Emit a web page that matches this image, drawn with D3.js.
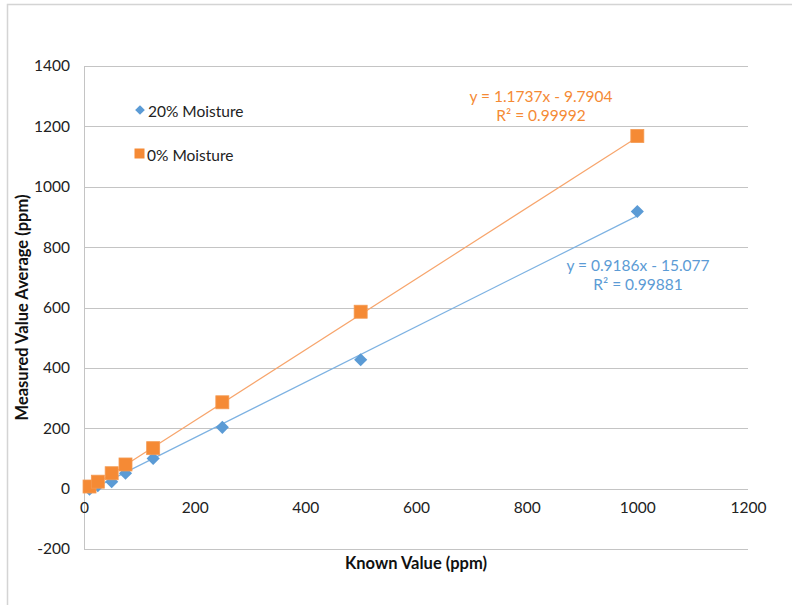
<!DOCTYPE html>
<html>
<head>
<meta charset="utf-8">
<script src="https://cdn.jsdelivr.net/npm/d3@7"></script>
<style>
  html, body { margin: 0; padding: 0; background: #fff; }
  svg { display: block; font-family: Lato, "Open Sans", sans-serif; }
</style>
</head>
<body>
<svg id="chart" width="792" height="605"></svg>
<script>
// Known concentrations (ppm)
const known = [10, 25, 50, 75, 125, 250, 500, 1000];
// Measured averages (ppm)
const moist20 = [-2, 10, 23, 51, 100, 203, 427, 918];
const moist0 = [7, 23, 51, 80, 134, 286, 586, 1168];

// Linear trend lines as reported in the labels
const fit20 = { slope: 0.9186, intercept: -15.077, r2: "0.99881" };
const fit0 = { slope: 1.1737, intercept: -9.7904, r2: "0.99992" };

const seriesNames = ["20% Moisture", "0% Moisture"];
const xTicks = [0, 200, 400, 600, 800, 1000, 1200];
const yTicks = [-200, 0, 200, 400, 600, 800, 1000, 1200, 1400];

const blue = "#5B9BD5";
const orange = "#F58A35";
const blueLine = "#7DB2E2";
const orangeLine = "#F7A56C";
const font = "Lato, 'Open Sans', sans-serif";

const svg = d3.select("#chart");

// outer chart frame (left and top edges visible)
svg.append("path")
  .attr("d", "M7.5,605 V4.5 H792")
  .attr("fill", "none").attr("stroke", "#D4D4D4").attr("stroke-width", 1.5);

const plot = { left: 84, right: 748, top: 66, bottom: 549 };

const x = d3.scaleLinear().domain([0, 1200]).range([plot.left, plot.right]);
const y = d3.scaleLinear().domain([-200, 1400]).range([plot.bottom, plot.top]);

// horizontal gridlines
svg.append("g")
  .selectAll("line").data(yTicks).join("line")
  .attr("x1", plot.left).attr("x2", plot.right)
  .attr("y1", d => Math.round(y(d)) + 0.5).attr("y2", d => Math.round(y(d)) + 0.5)
  .attr("stroke", "#C4C4C4").attr("stroke-width", 1);

// vertical axis line
svg.append("line")
  .attr("x1", plot.left + 0.5).attr("x2", plot.left + 0.5)
  .attr("y1", plot.top).attr("y2", plot.bottom)
  .attr("stroke", "#C4C4C4");

const plain = d => String(d);

// y axis labels
const yAxis = d3.axisLeft(y).tickValues(yTicks).tickFormat(plain).tickSize(0).tickPadding(14);
const gy = svg.append("g").attr("transform", `translate(${plot.left},0)`).call(yAxis);
gy.select(".domain").remove();
gy.selectAll("text").attr("font-size", 15.5).attr("fill", "#222").attr("font-family", font);

// x axis labels, placed where the axis crosses y = 0
const xAxis = d3.axisBottom(x).tickValues(xTicks).tickFormat(plain).tickSize(0).tickPadding(13);
const gx = svg.append("g").attr("transform", `translate(0,${y(0)})`).call(xAxis);
gx.select(".domain").remove();
gx.selectAll("text").attr("font-size", 15.5).attr("fill", "#222").attr("font-family", font);

// axis titles
svg.append("text")
  .attr("x", (plot.left + plot.right) / 2).attr("y", 569)
  .attr("text-anchor", "middle").attr("font-size", 16.5).attr("font-weight", "bold")
  .attr("fill", "#111").text("Known Value (ppm)");
svg.append("text")
  .attr("transform", `translate(28,${(plot.top + plot.bottom) / 2}) rotate(-90)`)
  .attr("text-anchor", "middle").attr("font-size", 16.5).attr("font-weight", "bold")
  .attr("fill", "#111").text("Measured Value Average (ppm)");

// trend lines over the data range
const xmin = d3.min(known), xmax = d3.max(known);
function trend(fit, color) {
  svg.append("line")
    .attr("x1", x(xmin)).attr("y1", y(fit.slope * xmin + fit.intercept))
    .attr("x2", x(xmax)).attr("y2", y(fit.slope * xmax + fit.intercept))
    .attr("stroke", color).attr("stroke-width", 1.2);
}
trend(fit20, blueLine);
trend(fit0, orangeLine);

// markers
const diamond = d3.symbol().type(d3.symbolDiamond2).size(110);
svg.append("g").selectAll("path").data(known.map((k, i) => [k, moist20[i]])).join("path")
  .attr("d", diamond)
  .attr("transform", d => `translate(${x(d[0])},${y(d[1])})`)
  .attr("fill", blue);

const sq = 13;
svg.append("g").selectAll("rect").data(known.map((k, i) => [k, moist0[i]])).join("rect")
  .attr("x", d => x(d[0]) - sq / 2).attr("y", d => y(d[1]) - sq / 2)
  .attr("width", sq).attr("height", sq)
  .attr("fill", orange).attr("stroke", "#F49A52").attr("stroke-width", 0.8);

// legend
const legend = svg.append("g");
legend.append("path").attr("d", d3.symbol().type(d3.symbolDiamond2).size(60))
  .attr("transform", "translate(140,110)").attr("fill", blue);
legend.append("text").attr("x", 148).attr("y", 117).attr("font-size", 15.5)
  .attr("fill", "#222").text(seriesNames[0]);
legend.append("rect").attr("x", 134.5).attr("y", 148.5).attr("width", 10).attr("height", 10)
  .attr("fill", orange);
legend.append("text").attr("x", 147).attr("y", 161).attr("font-size", 15.5)
  .attr("fill", "#222").text(seriesNames[1]);

// trend line equation labels
function fmt(fit) {
  const sign = fit.intercept < 0 ? " - " : " + ";
  return `y = ${fit.slope}x${sign}${Math.abs(fit.intercept)}`;
}
function eqLabel(fit, cx, cy, color) {
  const t = svg.append("text").attr("text-anchor", "middle").attr("font-size", 15.5).attr("fill", color);
  t.append("tspan").attr("x", cx).attr("y", cy).text(fmt(fit));
  t.append("tspan").attr("x", cx).attr("y", cy + 19).text(`R² = ${fit.r2}`);
}
eqLabel(fit0, 541, 102, orange);
eqLabel(fit20, 638, 271, blue);
</script>
</body>
</html>
